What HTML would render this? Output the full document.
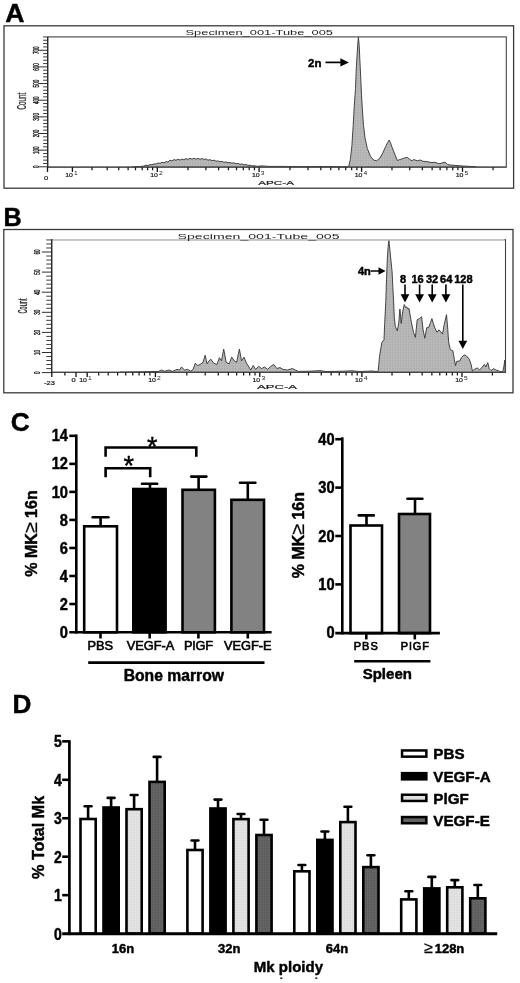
<!DOCTYPE html>
<html><head><meta charset="utf-8"><title>Figure</title>
<style>
html,body{margin:0;padding:0;background:#fff;}
body{width:520px;height:983px;overflow:hidden;font-family:"Liberation Sans",sans-serif;}
svg{display:block;}
text[font-weight="bold"]{stroke:#000;stroke-width:0.45px;stroke-linejoin:round;}
text[font-weight="bold"] tspan[font-weight="normal"]{stroke-width:0.25px;}
</style></head>
<body>
<svg width="520" height="983" viewBox="0 0 520 983">
<defs>
<pattern id="hatch" width="1.6" height="1.6" patternUnits="userSpaceOnUse"><rect width="1.6" height="1.6" fill="#c0c0c0"/><path d="M0,0 H1.6 M0,0 V1.6" stroke="#9a9a9a" stroke-width="0.5"/></pattern>
<pattern id="dotl" width="1.6" height="1.6" patternUnits="userSpaceOnUse"><rect width="1.6" height="1.6" fill="#e8e8e8"/><path d="M0,0 H1.6 M0,0 V1.6" stroke="#cccccc" stroke-width="0.5"/></pattern>
<pattern id="dotd" width="1.6" height="1.6" patternUnits="userSpaceOnUse"><rect width="1.6" height="1.6" fill="#6a6a6a"/><path d="M0,0 H1.6 M0,0 V1.6" stroke="#4a4a4a" stroke-width="0.5"/></pattern>
<filter id="soft" x="0" y="0" width="100%" height="100%" filterUnits="userSpaceOnUse" color-interpolation-filters="sRGB"><feGaussianBlur stdDeviation="0.38"/></filter>
</defs>
<rect width="520" height="983" fill="#fff"/>
<g filter="url(#soft)">
<text x="5.20" y="21.70" font-size="25.4" font-weight="bold" text-anchor="start" fill="#000" font-family="Liberation Sans, sans-serif" textLength="19.2" lengthAdjust="spacingAndGlyphs">A</text>
<text x="3.60" y="225.80" font-size="25.2" font-weight="bold" text-anchor="start" fill="#000" font-family="Liberation Sans, sans-serif" >B</text>
<text x="10.80" y="431.00" font-size="26.3" font-weight="bold" text-anchor="start" fill="#000" font-family="Liberation Sans, sans-serif" >C</text>
<text x="12.50" y="713.00" font-size="26.2" font-weight="bold" text-anchor="start" fill="#000" font-family="Liberation Sans, sans-serif" >D</text>
<rect x="4.00" y="25.80" width="509.60" height="162.40" fill="#fff" stroke="#3a3a3a" stroke-width="1.3" />
<path d="M132.0,166.9 L140.0,166.5 L144.0,166.1 L146.0,165.2 L148.0,165.6 L150.0,164.5 L152.0,164.8 L154.0,163.8 L156.0,164.1 L158.0,163.0 L160.0,163.4 L162.0,162.3 L164.0,162.8 L166.0,161.6 L168.0,162.0 L170.0,160.3 L172.0,160.9 L174.0,159.6 L176.0,160.3 L178.0,159.2 L180.0,160.0 L182.0,159.1 L184.0,159.8 L186.0,158.5 L188.0,159.4 L190.0,158.3 L192.0,159.2 L194.0,158.2 L196.0,159.2 L198.0,158.3 L200.0,159.4 L202.0,158.5 L204.0,159.4 L206.0,158.9 L208.0,160.2 L210.0,159.6 L212.0,160.7 L214.0,160.2 L216.0,161.2 L218.0,160.9 L220.0,161.8 L222.0,161.4 L224.0,162.3 L226.0,161.9 L228.0,162.8 L230.0,162.5 L232.0,163.2 L234.0,162.8 L236.0,163.8 L238.0,163.4 L240.0,164.3 L242.0,163.9 L244.0,164.8 L246.0,164.5 L248.0,165.4 L250.0,165.2 L252.0,165.9 L254.0,165.7 L257.0,166.3 L262.0,165.9 L268.0,166.4 L280.0,166.4 L300.0,166.6 L330.0,166.5 L346.0,166.8 L346.0,166.9 Z" fill="url(#hatch)" stroke="none"/>
<path d="M132.0,166.9 L140.0,166.5 L144.0,166.1 L146.0,165.2 L148.0,165.6 L150.0,164.5 L152.0,164.8 L154.0,163.8 L156.0,164.1 L158.0,163.0 L160.0,163.4 L162.0,162.3 L164.0,162.8 L166.0,161.6 L168.0,162.0 L170.0,160.3 L172.0,160.9 L174.0,159.6 L176.0,160.3 L178.0,159.2 L180.0,160.0 L182.0,159.1 L184.0,159.8 L186.0,158.5 L188.0,159.4 L190.0,158.3 L192.0,159.2 L194.0,158.2 L196.0,159.2 L198.0,158.3 L200.0,159.4 L202.0,158.5 L204.0,159.4 L206.0,158.9 L208.0,160.2 L210.0,159.6 L212.0,160.7 L214.0,160.2 L216.0,161.2 L218.0,160.9 L220.0,161.8 L222.0,161.4 L224.0,162.3 L226.0,161.9 L228.0,162.8 L230.0,162.5 L232.0,163.2 L234.0,162.8 L236.0,163.8 L238.0,163.4 L240.0,164.3 L242.0,163.9 L244.0,164.8 L246.0,164.5 L248.0,165.4 L250.0,165.2 L252.0,165.9 L254.0,165.7 L257.0,166.3 L262.0,165.9 L268.0,166.4 L280.0,166.4 L300.0,166.6 L330.0,166.5 L346.0,166.8 L346.0,166.9" fill="none" stroke="#333" stroke-width="0.9" stroke-linejoin="round"/>
<path d="M346.0,167.0 L348.8,166.2 L350.4,159.2 L351.9,145.4 L353.2,125.4 L354.2,106.9 L355.5,88.5 L356.2,70.0 L357.0,56.2 L357.8,43.8 L358.4,37.2 L359.2,45.4 L359.9,60.8 L360.8,79.2 L361.5,94.6 L362.4,110.0 L363.5,125.4 L365.0,137.7 L367.3,148.5 L370.4,156.2 L373.5,160.0 L376.5,160.8 L379.6,158.5 L382.7,153.1 L385.8,146.2 L387.8,142.2 L389.2,140.0 L390.4,142.6 L391.9,146.9 L395.0,154.6 L397.3,160.5 L399.5,159.6 L401.2,159.2 L404.5,157.9 L407.3,157.4 L409.5,159.2 L411.9,160.8 L413.5,159.6 L415.0,160.0 L417.5,160.8 L420.0,160.0 L423.0,161.3 L427.0,161.6 L431.0,162.5 L435.0,162.3 L439.0,163.8 L442.0,163.0 L445.0,162.2 L447.5,164.4 L450.0,165.0 L454.0,165.3 L460.0,165.8 L468.0,166.3 L476.0,166.7 L476.0,167.0 Z" fill="url(#hatch)" stroke="none"/>
<path d="M346.0,167.0 L348.8,166.2 L350.4,159.2 L351.9,145.4 L353.2,125.4 L354.2,106.9 L355.5,88.5 L356.2,70.0 L357.0,56.2 L357.8,43.8 L358.4,37.2 L359.2,45.4 L359.9,60.8 L360.8,79.2 L361.5,94.6 L362.4,110.0 L363.5,125.4 L365.0,137.7 L367.3,148.5 L370.4,156.2 L373.5,160.0 L376.5,160.8 L379.6,158.5 L382.7,153.1 L385.8,146.2 L387.8,142.2 L389.2,140.0 L390.4,142.6 L391.9,146.9 L395.0,154.6 L397.3,160.5 L399.5,159.6 L401.2,159.2 L404.5,157.9 L407.3,157.4 L409.5,159.2 L411.9,160.8 L413.5,159.6 L415.0,160.0 L417.5,160.8 L420.0,160.0 L423.0,161.3 L427.0,161.6 L431.0,162.5 L435.0,162.3 L439.0,163.8 L442.0,163.0 L445.0,162.2 L447.5,164.4 L450.0,165.0 L454.0,165.3 L460.0,165.8 L468.0,166.3 L476.0,166.7 L476.0,167.0" fill="none" stroke="#333" stroke-width="0.9" stroke-linejoin="round"/>
<rect x="47.70" y="36.90" width="458.60" height="130.30" fill="none" stroke="#444" stroke-width="1.1" />
<line x1="47.70" y1="36.90" x2="47.70" y2="167.20" stroke="#222" stroke-width="1.15" />
<line x1="47.70" y1="167.00" x2="506.30" y2="167.00" stroke="#444" stroke-width="1.0" />
<line x1="39.10" y1="166.80" x2="47.70" y2="166.80" stroke="#222" stroke-width="0.95" />
<line x1="43.10" y1="163.47" x2="47.70" y2="163.47" stroke="#333" stroke-width="0.95" />
<line x1="43.10" y1="160.14" x2="47.70" y2="160.14" stroke="#333" stroke-width="0.95" />
<line x1="43.10" y1="156.81" x2="47.70" y2="156.81" stroke="#333" stroke-width="0.95" />
<line x1="43.10" y1="153.48" x2="47.70" y2="153.48" stroke="#333" stroke-width="0.95" />
<line x1="39.10" y1="150.15" x2="47.70" y2="150.15" stroke="#222" stroke-width="0.95" />
<line x1="43.10" y1="146.82" x2="47.70" y2="146.82" stroke="#333" stroke-width="0.95" />
<line x1="43.10" y1="143.49" x2="47.70" y2="143.49" stroke="#333" stroke-width="0.95" />
<line x1="43.10" y1="140.16" x2="47.70" y2="140.16" stroke="#333" stroke-width="0.95" />
<line x1="43.10" y1="136.83" x2="47.70" y2="136.83" stroke="#333" stroke-width="0.95" />
<line x1="39.10" y1="133.50" x2="47.70" y2="133.50" stroke="#222" stroke-width="0.95" />
<line x1="43.10" y1="130.17" x2="47.70" y2="130.17" stroke="#333" stroke-width="0.95" />
<line x1="43.10" y1="126.84" x2="47.70" y2="126.84" stroke="#333" stroke-width="0.95" />
<line x1="43.10" y1="123.51" x2="47.70" y2="123.51" stroke="#333" stroke-width="0.95" />
<line x1="43.10" y1="120.18" x2="47.70" y2="120.18" stroke="#333" stroke-width="0.95" />
<line x1="39.10" y1="116.85" x2="47.70" y2="116.85" stroke="#222" stroke-width="0.95" />
<line x1="43.10" y1="113.52" x2="47.70" y2="113.52" stroke="#333" stroke-width="0.95" />
<line x1="43.10" y1="110.19" x2="47.70" y2="110.19" stroke="#333" stroke-width="0.95" />
<line x1="43.10" y1="106.86" x2="47.70" y2="106.86" stroke="#333" stroke-width="0.95" />
<line x1="43.10" y1="103.53" x2="47.70" y2="103.53" stroke="#333" stroke-width="0.95" />
<line x1="39.10" y1="100.20" x2="47.70" y2="100.20" stroke="#222" stroke-width="0.95" />
<line x1="43.10" y1="96.87" x2="47.70" y2="96.87" stroke="#333" stroke-width="0.95" />
<line x1="43.10" y1="93.54" x2="47.70" y2="93.54" stroke="#333" stroke-width="0.95" />
<line x1="43.10" y1="90.21" x2="47.70" y2="90.21" stroke="#333" stroke-width="0.95" />
<line x1="43.10" y1="86.88" x2="47.70" y2="86.88" stroke="#333" stroke-width="0.95" />
<line x1="39.10" y1="83.55" x2="47.70" y2="83.55" stroke="#222" stroke-width="0.95" />
<line x1="43.10" y1="80.22" x2="47.70" y2="80.22" stroke="#333" stroke-width="0.95" />
<line x1="43.10" y1="76.89" x2="47.70" y2="76.89" stroke="#333" stroke-width="0.95" />
<line x1="43.10" y1="73.56" x2="47.70" y2="73.56" stroke="#333" stroke-width="0.95" />
<line x1="43.10" y1="70.23" x2="47.70" y2="70.23" stroke="#333" stroke-width="0.95" />
<line x1="39.10" y1="66.90" x2="47.70" y2="66.90" stroke="#222" stroke-width="0.95" />
<line x1="43.10" y1="63.57" x2="47.70" y2="63.57" stroke="#333" stroke-width="0.95" />
<line x1="43.10" y1="60.24" x2="47.70" y2="60.24" stroke="#333" stroke-width="0.95" />
<line x1="43.10" y1="56.91" x2="47.70" y2="56.91" stroke="#333" stroke-width="0.95" />
<line x1="43.10" y1="53.58" x2="47.70" y2="53.58" stroke="#333" stroke-width="0.95" />
<line x1="39.10" y1="50.25" x2="47.70" y2="50.25" stroke="#222" stroke-width="0.95" />
<line x1="43.10" y1="46.92" x2="47.70" y2="46.92" stroke="#333" stroke-width="0.95" />
<line x1="43.10" y1="43.59" x2="47.70" y2="43.59" stroke="#333" stroke-width="0.95" />
<line x1="43.10" y1="40.26" x2="47.70" y2="40.26" stroke="#333" stroke-width="0.95" />
<line x1="43.10" y1="36.93" x2="47.70" y2="36.93" stroke="#333" stroke-width="0.95" />
<text transform="translate(38.60,166.80) rotate(-90) scale(0.54,1)" font-size="8.5" font-weight="normal" text-anchor="middle" fill="#1a1a1a" font-family="Liberation Sans, sans-serif" stroke="#1a1a1a" stroke-width="0.4">0</text>
<text transform="translate(38.60,150.15) rotate(-90) scale(0.54,1)" font-size="8.5" font-weight="normal" text-anchor="middle" fill="#1a1a1a" font-family="Liberation Sans, sans-serif" stroke="#1a1a1a" stroke-width="0.4">100</text>
<text transform="translate(38.60,133.50) rotate(-90) scale(0.54,1)" font-size="8.5" font-weight="normal" text-anchor="middle" fill="#1a1a1a" font-family="Liberation Sans, sans-serif" stroke="#1a1a1a" stroke-width="0.4">200</text>
<text transform="translate(38.60,116.85) rotate(-90) scale(0.54,1)" font-size="8.5" font-weight="normal" text-anchor="middle" fill="#1a1a1a" font-family="Liberation Sans, sans-serif" stroke="#1a1a1a" stroke-width="0.4">300</text>
<text transform="translate(38.60,100.20) rotate(-90) scale(0.54,1)" font-size="8.5" font-weight="normal" text-anchor="middle" fill="#1a1a1a" font-family="Liberation Sans, sans-serif" stroke="#1a1a1a" stroke-width="0.4">400</text>
<text transform="translate(38.60,83.55) rotate(-90) scale(0.54,1)" font-size="8.5" font-weight="normal" text-anchor="middle" fill="#1a1a1a" font-family="Liberation Sans, sans-serif" stroke="#1a1a1a" stroke-width="0.4">500</text>
<text transform="translate(38.60,66.90) rotate(-90) scale(0.54,1)" font-size="8.5" font-weight="normal" text-anchor="middle" fill="#1a1a1a" font-family="Liberation Sans, sans-serif" stroke="#1a1a1a" stroke-width="0.4">600</text>
<text transform="translate(38.60,50.25) rotate(-90) scale(0.54,1)" font-size="8.5" font-weight="normal" text-anchor="middle" fill="#1a1a1a" font-family="Liberation Sans, sans-serif" stroke="#1a1a1a" stroke-width="0.4">700</text>
<line x1="47.50" y1="167.20" x2="47.50" y2="171.90" stroke="#111" stroke-width="1.3" />
<line x1="72.40" y1="167.20" x2="72.40" y2="171.90" stroke="#111" stroke-width="1.3" />
<line x1="157.30" y1="167.20" x2="157.30" y2="171.90" stroke="#111" stroke-width="1.3" />
<line x1="259.10" y1="167.20" x2="259.10" y2="171.90" stroke="#111" stroke-width="1.3" />
<line x1="361.60" y1="167.20" x2="361.60" y2="171.90" stroke="#111" stroke-width="1.3" />
<line x1="462.50" y1="167.20" x2="462.50" y2="171.90" stroke="#111" stroke-width="1.3" />
<line x1="92.00" y1="167.20" x2="92.00" y2="170.30" stroke="#1a1a1a" stroke-width="1.25" />
<line x1="107.20" y1="167.20" x2="107.20" y2="170.30" stroke="#1a1a1a" stroke-width="1.25" />
<line x1="118.70" y1="167.20" x2="118.70" y2="170.30" stroke="#1a1a1a" stroke-width="1.25" />
<line x1="128.10" y1="167.20" x2="128.10" y2="170.30" stroke="#1a1a1a" stroke-width="1.25" />
<line x1="135.50" y1="167.20" x2="135.50" y2="170.30" stroke="#1a1a1a" stroke-width="1.25" />
<line x1="142.20" y1="167.20" x2="142.20" y2="170.30" stroke="#1a1a1a" stroke-width="1.25" />
<line x1="147.60" y1="167.20" x2="147.60" y2="170.30" stroke="#1a1a1a" stroke-width="1.25" />
<line x1="152.60" y1="167.20" x2="152.60" y2="170.30" stroke="#1a1a1a" stroke-width="1.25" />
<line x1="187.94" y1="167.20" x2="187.94" y2="170.30" stroke="#1a1a1a" stroke-width="1.25" />
<line x1="205.87" y1="167.20" x2="205.87" y2="170.30" stroke="#1a1a1a" stroke-width="1.25" />
<line x1="218.59" y1="167.20" x2="218.59" y2="170.30" stroke="#1a1a1a" stroke-width="1.25" />
<line x1="228.46" y1="167.20" x2="228.46" y2="170.30" stroke="#1a1a1a" stroke-width="1.25" />
<line x1="236.52" y1="167.20" x2="236.52" y2="170.30" stroke="#1a1a1a" stroke-width="1.25" />
<line x1="243.33" y1="167.20" x2="243.33" y2="170.30" stroke="#1a1a1a" stroke-width="1.25" />
<line x1="249.23" y1="167.20" x2="249.23" y2="170.30" stroke="#1a1a1a" stroke-width="1.25" />
<line x1="254.44" y1="167.20" x2="254.44" y2="170.30" stroke="#1a1a1a" stroke-width="1.25" />
<line x1="289.96" y1="167.20" x2="289.96" y2="170.30" stroke="#1a1a1a" stroke-width="1.25" />
<line x1="308.00" y1="167.20" x2="308.00" y2="170.30" stroke="#1a1a1a" stroke-width="1.25" />
<line x1="320.81" y1="167.20" x2="320.81" y2="170.30" stroke="#1a1a1a" stroke-width="1.25" />
<line x1="330.74" y1="167.20" x2="330.74" y2="170.30" stroke="#1a1a1a" stroke-width="1.25" />
<line x1="338.86" y1="167.20" x2="338.86" y2="170.30" stroke="#1a1a1a" stroke-width="1.25" />
<line x1="345.72" y1="167.20" x2="345.72" y2="170.30" stroke="#1a1a1a" stroke-width="1.25" />
<line x1="351.67" y1="167.20" x2="351.67" y2="170.30" stroke="#1a1a1a" stroke-width="1.25" />
<line x1="356.91" y1="167.20" x2="356.91" y2="170.30" stroke="#1a1a1a" stroke-width="1.25" />
<line x1="391.97" y1="167.20" x2="391.97" y2="170.30" stroke="#1a1a1a" stroke-width="1.25" />
<line x1="409.74" y1="167.20" x2="409.74" y2="170.30" stroke="#1a1a1a" stroke-width="1.25" />
<line x1="422.35" y1="167.20" x2="422.35" y2="170.30" stroke="#1a1a1a" stroke-width="1.25" />
<line x1="432.13" y1="167.20" x2="432.13" y2="170.30" stroke="#1a1a1a" stroke-width="1.25" />
<line x1="440.12" y1="167.20" x2="440.12" y2="170.30" stroke="#1a1a1a" stroke-width="1.25" />
<line x1="446.87" y1="167.20" x2="446.87" y2="170.30" stroke="#1a1a1a" stroke-width="1.25" />
<line x1="452.72" y1="167.20" x2="452.72" y2="170.30" stroke="#1a1a1a" stroke-width="1.25" />
<line x1="457.88" y1="167.20" x2="457.88" y2="170.30" stroke="#1a1a1a" stroke-width="1.25" />
<line x1="493.05" y1="167.20" x2="493.05" y2="170.30" stroke="#1a1a1a" stroke-width="1.25" />
<text transform="translate(46.10,180.00) scale(1.3,1)" font-size="5.8" text-anchor="middle" fill="#1a1a1a" stroke="#1a1a1a" stroke-width="0.2" font-family="Liberation Sans, sans-serif">0</text>
<text transform="translate(71.50,177.20) scale(1.2,1)" font-size="5.8" text-anchor="middle" fill="#1a1a1a" stroke="#1a1a1a" stroke-width="0.2" font-family="Liberation Sans, sans-serif">10<tspan dy="-2.5" dx="1.0" font-size="5.6" stroke="none">1</tspan></text>
<text transform="translate(156.50,177.20) scale(1.2,1)" font-size="5.8" text-anchor="middle" fill="#1a1a1a" stroke="#1a1a1a" stroke-width="0.2" font-family="Liberation Sans, sans-serif">10<tspan dy="-2.5" dx="1.0" font-size="5.6" stroke="none">2</tspan></text>
<text transform="translate(258.20,177.20) scale(1.2,1)" font-size="5.8" text-anchor="middle" fill="#1a1a1a" stroke="#1a1a1a" stroke-width="0.2" font-family="Liberation Sans, sans-serif">10<tspan dy="-2.5" dx="1.0" font-size="5.6" stroke="none">3</tspan></text>
<text transform="translate(361.00,177.20) scale(1.2,1)" font-size="5.8" text-anchor="middle" fill="#1a1a1a" stroke="#1a1a1a" stroke-width="0.2" font-family="Liberation Sans, sans-serif">10<tspan dy="-2.5" dx="1.0" font-size="5.6" stroke="none">4</tspan></text>
<text transform="translate(462.00,177.20) scale(1.2,1)" font-size="5.8" text-anchor="middle" fill="#1a1a1a" stroke="#1a1a1a" stroke-width="0.2" font-family="Liberation Sans, sans-serif">10<tspan dy="-2.5" dx="1.0" font-size="5.6" stroke="none">5</tspan></text>
<text x="185.50" y="35.40" font-size="8.1" font-weight="normal" text-anchor="start" fill="#222" font-family="Liberation Sans, sans-serif" textLength="147.5" lengthAdjust="spacingAndGlyphs">Specimen_001-Tube_005</text>
<text x="258.30" y="185.00" font-size="6.2" font-weight="normal" text-anchor="start" fill="#222" font-family="Liberation Sans, sans-serif" textLength="35.7" lengthAdjust="spacingAndGlyphs" stroke="#222" stroke-width="0.2">APC-A</text>
<text transform="translate(25.90,101.20) rotate(-90) scale(0.48,1)" font-size="13" font-weight="normal" text-anchor="middle" fill="#222" font-family="Liberation Sans, sans-serif" stroke="#222" stroke-width="0.3">Count</text>
<text x="308.00" y="67.00" font-size="11.5" font-weight="bold" text-anchor="start" fill="#000" font-family="Liberation Sans, sans-serif" >2n</text>
<line x1="325.50" y1="62.40" x2="342.00" y2="62.40" stroke="#000" stroke-width="1.7" />
<path d="M340.4,58.3 L348.9,62.4 L340.4,66.5 Z" fill="#000"/>
<rect x="3.80" y="229.50" width="509.20" height="163.30" fill="#fff" stroke="#3a3a3a" stroke-width="1.3" />
<path d="M120.0,372.2 L150.0,371.6 L158.5,371.4 L161.5,370.0 L164.6,371.2 L169.2,370.0 L172.3,371.4 L177.0,369.4 L179.4,370.0 L181.5,367.0 L184.6,370.0 L187.7,369.4 L190.8,371.2 L193.0,369.4 L195.4,363.2 L197.5,365.5 L200.0,364.5 L203.0,362.3 L205.2,355.2 L207.0,363.8 L209.0,361.0 L210.8,359.2 L213.8,363.2 L216.9,364.5 L219.4,357.7 L221.5,360.8 L223.7,349.1 L226.2,362.3 L229.2,363.8 L231.7,357.1 L234.2,360.8 L236.6,362.3 L239.4,349.1 L241.5,360.8 L244.0,357.1 L246.5,363.2 L250.8,370.0 L253.2,365.4 L255.7,369.4 L258.5,366.3 L261.5,368.5 L264.6,367.0 L267.7,369.4 L270.8,366.3 L273.8,364.5 L276.9,368.5 L280.0,367.6 L283.0,369.4 L287.7,370.0 L292.3,368.5 L295.4,370.0 L298.5,371.4 L310.0,371.2 L320.0,370.6 L326.0,371.5 L340.0,371.3 L352.0,370.8 L360.0,371.5 L372.0,371.0 L377.5,371.6 L377.5,372.2 Z" fill="url(#hatch)" stroke="none"/>
<path d="M120.0,372.2 L150.0,371.6 L158.5,371.4 L161.5,370.0 L164.6,371.2 L169.2,370.0 L172.3,371.4 L177.0,369.4 L179.4,370.0 L181.5,367.0 L184.6,370.0 L187.7,369.4 L190.8,371.2 L193.0,369.4 L195.4,363.2 L197.5,365.5 L200.0,364.5 L203.0,362.3 L205.2,355.2 L207.0,363.8 L209.0,361.0 L210.8,359.2 L213.8,363.2 L216.9,364.5 L219.4,357.7 L221.5,360.8 L223.7,349.1 L226.2,362.3 L229.2,363.8 L231.7,357.1 L234.2,360.8 L236.6,362.3 L239.4,349.1 L241.5,360.8 L244.0,357.1 L246.5,363.2 L250.8,370.0 L253.2,365.4 L255.7,369.4 L258.5,366.3 L261.5,368.5 L264.6,367.0 L267.7,369.4 L270.8,366.3 L273.8,364.5 L276.9,368.5 L280.0,367.6 L283.0,369.4 L287.7,370.0 L292.3,368.5 L295.4,370.0 L298.5,371.4 L310.0,371.2 L320.0,370.6 L326.0,371.5 L340.0,371.3 L352.0,370.8 L360.0,371.5 L372.0,371.0 L377.5,371.6 L377.5,372.2" fill="none" stroke="#333" stroke-width="0.9" stroke-linejoin="round"/>
<path d="M377.3,372.2 L378.1,371.5 L379.6,355.8 L381.8,342.6 L384.0,339.6 L384.7,323.4 L385.8,301.3 L386.5,279.2 L387.4,257.1 L388.4,243.8 L388.9,240.4 L389.5,246.0 L390.6,257.1 L392.1,271.8 L392.8,286.6 L393.6,301.3 L394.3,317.5 L395.3,326.4 L397.3,330.8 L398.7,323.4 L399.9,309.0 L400.6,316.0 L401.2,323.4 L402.7,311.6 L404.3,304.5 L405.5,307.4 L406.8,306.9 L408.0,309.2 L409.0,308.4 L411.3,321.9 L413.5,332.3 L415.4,337.4 L417.2,319.7 L419.5,318.6 L421.6,316.8 L423.0,329.3 L424.8,338.2 L426.7,327.8 L428.9,327.1 L430.5,322.5 L431.9,318.6 L433.4,323.5 L434.8,327.8 L437.0,332.3 L439.0,329.8 L440.0,331.0 L442.5,334.1 L444.2,324.6 L446.5,314.7 L447.7,328.1 L448.6,341.9 L450.3,349.7 L452.9,350.9 L454.3,359.2 L455.5,365.6 L456.7,361.3 L459.8,361.0 L461.5,357.5 L464.1,354.9 L466.4,355.8 L469.3,359.2 L471.1,364.4 L472.4,371.0 L474.5,369.3 L477.1,367.9 L479.7,370.0 L482.3,367.0 L484.4,364.4 L485.8,367.0 L487.8,362.7 L489.2,368.7 L491.0,370.5 L493.6,368.7 L496.1,370.0 L499.6,371.3 L502.7,372.0 L503.9,366.2 L504.8,360.1 L505.3,372.2 Z" fill="url(#hatch)" stroke="none"/>
<path d="M377.3,372.2 L378.1,371.5 L379.6,355.8 L381.8,342.6 L384.0,339.6 L384.7,323.4 L385.8,301.3 L386.5,279.2 L387.4,257.1 L388.4,243.8 L388.9,240.4 L389.5,246.0 L390.6,257.1 L392.1,271.8 L392.8,286.6 L393.6,301.3 L394.3,317.5 L395.3,326.4 L397.3,330.8 L398.7,323.4 L399.9,309.0 L400.6,316.0 L401.2,323.4 L402.7,311.6 L404.3,304.5 L405.5,307.4 L406.8,306.9 L408.0,309.2 L409.0,308.4 L411.3,321.9 L413.5,332.3 L415.4,337.4 L417.2,319.7 L419.5,318.6 L421.6,316.8 L423.0,329.3 L424.8,338.2 L426.7,327.8 L428.9,327.1 L430.5,322.5 L431.9,318.6 L433.4,323.5 L434.8,327.8 L437.0,332.3 L439.0,329.8 L440.0,331.0 L442.5,334.1 L444.2,324.6 L446.5,314.7 L447.7,328.1 L448.6,341.9 L450.3,349.7 L452.9,350.9 L454.3,359.2 L455.5,365.6 L456.7,361.3 L459.8,361.0 L461.5,357.5 L464.1,354.9 L466.4,355.8 L469.3,359.2 L471.1,364.4 L472.4,371.0 L474.5,369.3 L477.1,367.9 L479.7,370.0 L482.3,367.0 L484.4,364.4 L485.8,367.0 L487.8,362.7 L489.2,368.7 L491.0,370.5 L493.6,368.7 L496.1,370.0 L499.6,371.3 L502.7,372.0 L503.9,366.2 L504.8,360.1 L505.3,372.2" fill="none" stroke="#333" stroke-width="0.9" stroke-linejoin="round"/>
<rect x="51.70" y="239.70" width="453.80" height="132.70" fill="none" stroke="#444" stroke-width="1.1" />
<line x1="52.70" y1="239.70" x2="504.50" y2="239.70" stroke="#c4c4c4" stroke-width="1.6" />
<line x1="51.70" y1="239.70" x2="51.70" y2="372.40" stroke="#222" stroke-width="1.15" />
<line x1="51.70" y1="372.20" x2="505.50" y2="372.20" stroke="#444" stroke-width="1.0" />
<line x1="41.90" y1="372.60" x2="51.70" y2="372.60" stroke="#222" stroke-width="0.95" />
<line x1="46.30" y1="368.58" x2="51.70" y2="368.58" stroke="#333" stroke-width="0.95" />
<line x1="46.30" y1="364.56" x2="51.70" y2="364.56" stroke="#333" stroke-width="0.95" />
<line x1="46.30" y1="360.54" x2="51.70" y2="360.54" stroke="#333" stroke-width="0.95" />
<line x1="46.30" y1="356.52" x2="51.70" y2="356.52" stroke="#333" stroke-width="0.95" />
<line x1="41.90" y1="352.50" x2="51.70" y2="352.50" stroke="#222" stroke-width="0.95" />
<line x1="46.30" y1="348.48" x2="51.70" y2="348.48" stroke="#333" stroke-width="0.95" />
<line x1="46.30" y1="344.46" x2="51.70" y2="344.46" stroke="#333" stroke-width="0.95" />
<line x1="46.30" y1="340.44" x2="51.70" y2="340.44" stroke="#333" stroke-width="0.95" />
<line x1="46.30" y1="336.42" x2="51.70" y2="336.42" stroke="#333" stroke-width="0.95" />
<line x1="41.90" y1="332.40" x2="51.70" y2="332.40" stroke="#222" stroke-width="0.95" />
<line x1="46.30" y1="328.38" x2="51.70" y2="328.38" stroke="#333" stroke-width="0.95" />
<line x1="46.30" y1="324.36" x2="51.70" y2="324.36" stroke="#333" stroke-width="0.95" />
<line x1="46.30" y1="320.34" x2="51.70" y2="320.34" stroke="#333" stroke-width="0.95" />
<line x1="46.30" y1="316.32" x2="51.70" y2="316.32" stroke="#333" stroke-width="0.95" />
<line x1="41.90" y1="312.30" x2="51.70" y2="312.30" stroke="#222" stroke-width="0.95" />
<line x1="46.30" y1="308.28" x2="51.70" y2="308.28" stroke="#333" stroke-width="0.95" />
<line x1="46.30" y1="304.26" x2="51.70" y2="304.26" stroke="#333" stroke-width="0.95" />
<line x1="46.30" y1="300.24" x2="51.70" y2="300.24" stroke="#333" stroke-width="0.95" />
<line x1="46.30" y1="296.22" x2="51.70" y2="296.22" stroke="#333" stroke-width="0.95" />
<line x1="41.90" y1="292.20" x2="51.70" y2="292.20" stroke="#222" stroke-width="0.95" />
<line x1="46.30" y1="288.18" x2="51.70" y2="288.18" stroke="#333" stroke-width="0.95" />
<line x1="46.30" y1="284.16" x2="51.70" y2="284.16" stroke="#333" stroke-width="0.95" />
<line x1="46.30" y1="280.14" x2="51.70" y2="280.14" stroke="#333" stroke-width="0.95" />
<line x1="46.30" y1="276.12" x2="51.70" y2="276.12" stroke="#333" stroke-width="0.95" />
<line x1="41.90" y1="272.10" x2="51.70" y2="272.10" stroke="#222" stroke-width="0.95" />
<line x1="46.30" y1="268.08" x2="51.70" y2="268.08" stroke="#333" stroke-width="0.95" />
<line x1="46.30" y1="264.06" x2="51.70" y2="264.06" stroke="#333" stroke-width="0.95" />
<line x1="46.30" y1="260.04" x2="51.70" y2="260.04" stroke="#333" stroke-width="0.95" />
<line x1="46.30" y1="256.02" x2="51.70" y2="256.02" stroke="#333" stroke-width="0.95" />
<line x1="41.90" y1="252.00" x2="51.70" y2="252.00" stroke="#222" stroke-width="0.95" />
<line x1="46.30" y1="247.98" x2="51.70" y2="247.98" stroke="#333" stroke-width="0.95" />
<line x1="46.30" y1="243.96" x2="51.70" y2="243.96" stroke="#333" stroke-width="0.95" />
<line x1="46.30" y1="239.94" x2="51.70" y2="239.94" stroke="#333" stroke-width="0.95" />
<text transform="translate(40.00,372.60) rotate(-90) scale(0.54,1)" font-size="8.5" font-weight="normal" text-anchor="middle" fill="#1a1a1a" font-family="Liberation Sans, sans-serif" stroke="#1a1a1a" stroke-width="0.4">0</text>
<text transform="translate(40.00,352.50) rotate(-90) scale(0.54,1)" font-size="8.5" font-weight="normal" text-anchor="middle" fill="#1a1a1a" font-family="Liberation Sans, sans-serif" stroke="#1a1a1a" stroke-width="0.4">10</text>
<text transform="translate(40.00,332.40) rotate(-90) scale(0.54,1)" font-size="8.5" font-weight="normal" text-anchor="middle" fill="#1a1a1a" font-family="Liberation Sans, sans-serif" stroke="#1a1a1a" stroke-width="0.4">20</text>
<text transform="translate(40.00,312.30) rotate(-90) scale(0.54,1)" font-size="8.5" font-weight="normal" text-anchor="middle" fill="#1a1a1a" font-family="Liberation Sans, sans-serif" stroke="#1a1a1a" stroke-width="0.4">30</text>
<text transform="translate(40.00,292.20) rotate(-90) scale(0.54,1)" font-size="8.5" font-weight="normal" text-anchor="middle" fill="#1a1a1a" font-family="Liberation Sans, sans-serif" stroke="#1a1a1a" stroke-width="0.4">40</text>
<text transform="translate(40.00,272.10) rotate(-90) scale(0.54,1)" font-size="8.5" font-weight="normal" text-anchor="middle" fill="#1a1a1a" font-family="Liberation Sans, sans-serif" stroke="#1a1a1a" stroke-width="0.4">50</text>
<text transform="translate(40.00,252.00) rotate(-90) scale(0.54,1)" font-size="8.5" font-weight="normal" text-anchor="middle" fill="#1a1a1a" font-family="Liberation Sans, sans-serif" stroke="#1a1a1a" stroke-width="0.4">60</text>
<line x1="51.80" y1="372.40" x2="51.80" y2="377.10" stroke="#111" stroke-width="1.3" />
<line x1="76.00" y1="372.40" x2="76.00" y2="377.10" stroke="#111" stroke-width="1.3" />
<line x1="87.20" y1="372.40" x2="87.20" y2="377.10" stroke="#111" stroke-width="1.3" />
<line x1="155.40" y1="372.40" x2="155.40" y2="377.10" stroke="#111" stroke-width="1.3" />
<line x1="259.80" y1="372.40" x2="259.80" y2="377.10" stroke="#111" stroke-width="1.3" />
<line x1="361.90" y1="372.40" x2="361.90" y2="377.10" stroke="#111" stroke-width="1.3" />
<line x1="462.00" y1="372.40" x2="462.00" y2="377.10" stroke="#111" stroke-width="1.3" />
<line x1="64.90" y1="372.40" x2="64.90" y2="375.50" stroke="#1a1a1a" stroke-width="1.25" />
<line x1="98.70" y1="372.40" x2="98.70" y2="375.50" stroke="#1a1a1a" stroke-width="1.25" />
<line x1="108.20" y1="372.40" x2="108.20" y2="375.50" stroke="#1a1a1a" stroke-width="1.25" />
<line x1="117.60" y1="372.40" x2="117.60" y2="375.50" stroke="#1a1a1a" stroke-width="1.25" />
<line x1="125.70" y1="372.40" x2="125.70" y2="375.50" stroke="#1a1a1a" stroke-width="1.25" />
<line x1="132.80" y1="372.40" x2="132.80" y2="375.50" stroke="#1a1a1a" stroke-width="1.25" />
<line x1="139.10" y1="372.40" x2="139.10" y2="375.50" stroke="#1a1a1a" stroke-width="1.25" />
<line x1="144.50" y1="372.40" x2="144.50" y2="375.50" stroke="#1a1a1a" stroke-width="1.25" />
<line x1="149.90" y1="372.40" x2="149.90" y2="375.50" stroke="#1a1a1a" stroke-width="1.25" />
<line x1="186.83" y1="372.40" x2="186.83" y2="375.50" stroke="#1a1a1a" stroke-width="1.25" />
<line x1="205.21" y1="372.40" x2="205.21" y2="375.50" stroke="#1a1a1a" stroke-width="1.25" />
<line x1="218.26" y1="372.40" x2="218.26" y2="375.50" stroke="#1a1a1a" stroke-width="1.25" />
<line x1="228.37" y1="372.40" x2="228.37" y2="375.50" stroke="#1a1a1a" stroke-width="1.25" />
<line x1="236.64" y1="372.40" x2="236.64" y2="375.50" stroke="#1a1a1a" stroke-width="1.25" />
<line x1="243.63" y1="372.40" x2="243.63" y2="375.50" stroke="#1a1a1a" stroke-width="1.25" />
<line x1="249.68" y1="372.40" x2="249.68" y2="375.50" stroke="#1a1a1a" stroke-width="1.25" />
<line x1="255.02" y1="372.40" x2="255.02" y2="375.50" stroke="#1a1a1a" stroke-width="1.25" />
<line x1="290.54" y1="372.40" x2="290.54" y2="375.50" stroke="#1a1a1a" stroke-width="1.25" />
<line x1="308.51" y1="372.40" x2="308.51" y2="375.50" stroke="#1a1a1a" stroke-width="1.25" />
<line x1="321.27" y1="372.40" x2="321.27" y2="375.50" stroke="#1a1a1a" stroke-width="1.25" />
<line x1="331.16" y1="372.40" x2="331.16" y2="375.50" stroke="#1a1a1a" stroke-width="1.25" />
<line x1="339.25" y1="372.40" x2="339.25" y2="375.50" stroke="#1a1a1a" stroke-width="1.25" />
<line x1="346.08" y1="372.40" x2="346.08" y2="375.50" stroke="#1a1a1a" stroke-width="1.25" />
<line x1="352.01" y1="372.40" x2="352.01" y2="375.50" stroke="#1a1a1a" stroke-width="1.25" />
<line x1="357.23" y1="372.40" x2="357.23" y2="375.50" stroke="#1a1a1a" stroke-width="1.25" />
<line x1="392.03" y1="372.40" x2="392.03" y2="375.50" stroke="#1a1a1a" stroke-width="1.25" />
<line x1="409.66" y1="372.40" x2="409.66" y2="375.50" stroke="#1a1a1a" stroke-width="1.25" />
<line x1="422.17" y1="372.40" x2="422.17" y2="375.50" stroke="#1a1a1a" stroke-width="1.25" />
<line x1="431.87" y1="372.40" x2="431.87" y2="375.50" stroke="#1a1a1a" stroke-width="1.25" />
<line x1="439.79" y1="372.40" x2="439.79" y2="375.50" stroke="#1a1a1a" stroke-width="1.25" />
<line x1="446.49" y1="372.40" x2="446.49" y2="375.50" stroke="#1a1a1a" stroke-width="1.25" />
<line x1="452.30" y1="372.40" x2="452.30" y2="375.50" stroke="#1a1a1a" stroke-width="1.25" />
<line x1="457.42" y1="372.40" x2="457.42" y2="375.50" stroke="#1a1a1a" stroke-width="1.25" />
<line x1="492.40" y1="372.40" x2="492.40" y2="375.50" stroke="#1a1a1a" stroke-width="1.25" />
<text transform="translate(49.50,385.20) scale(1.3,1)" font-size="5.8" text-anchor="middle" fill="#1a1a1a" stroke="#1a1a1a" stroke-width="0.2" font-family="Liberation Sans, sans-serif">-23</text>
<text transform="translate(73.70,382.40) scale(1.3,1)" font-size="5.8" text-anchor="middle" fill="#1a1a1a" stroke="#1a1a1a" stroke-width="0.2" font-family="Liberation Sans, sans-serif">0</text>
<text transform="translate(85.50,382.20) scale(1.2,1)" font-size="5.8" text-anchor="middle" fill="#1a1a1a" stroke="#1a1a1a" stroke-width="0.2" font-family="Liberation Sans, sans-serif">10<tspan dy="-2.5" dx="1.0" font-size="5.6" stroke="none">1</tspan></text>
<text transform="translate(154.50,382.20) scale(1.2,1)" font-size="5.8" text-anchor="middle" fill="#1a1a1a" stroke="#1a1a1a" stroke-width="0.2" font-family="Liberation Sans, sans-serif">10<tspan dy="-2.5" dx="1.0" font-size="5.6" stroke="none">2</tspan></text>
<text transform="translate(258.80,382.20) scale(1.2,1)" font-size="5.8" text-anchor="middle" fill="#1a1a1a" stroke="#1a1a1a" stroke-width="0.2" font-family="Liberation Sans, sans-serif">10<tspan dy="-2.5" dx="1.0" font-size="5.6" stroke="none">3</tspan></text>
<text transform="translate(361.20,382.20) scale(1.2,1)" font-size="5.8" text-anchor="middle" fill="#1a1a1a" stroke="#1a1a1a" stroke-width="0.2" font-family="Liberation Sans, sans-serif">10<tspan dy="-2.5" dx="1.0" font-size="5.6" stroke="none">4</tspan></text>
<text transform="translate(461.50,382.20) scale(1.2,1)" font-size="5.8" text-anchor="middle" fill="#1a1a1a" stroke="#1a1a1a" stroke-width="0.2" font-family="Liberation Sans, sans-serif">10<tspan dy="-2.5" dx="1.0" font-size="5.6" stroke="none">5</tspan></text>
<text x="177.60" y="239.30" font-size="8.1" font-weight="normal" text-anchor="start" fill="#222" font-family="Liberation Sans, sans-serif" textLength="162.0" lengthAdjust="spacingAndGlyphs">Specimen_001-Tube_005</text>
<text x="257.10" y="389.30" font-size="6.2" font-weight="normal" text-anchor="start" fill="#222" font-family="Liberation Sans, sans-serif" textLength="39.9" lengthAdjust="spacingAndGlyphs" stroke="#222" stroke-width="0.2">APC-A</text>
<text transform="translate(26.80,306.00) rotate(-90) scale(0.43,1)" font-size="13" font-weight="normal" text-anchor="middle" fill="#222" font-family="Liberation Sans, sans-serif" stroke="#222" stroke-width="0.3">Count</text>
<text x="358.00" y="275.00" font-size="11" font-weight="bold" text-anchor="start" fill="#000" font-family="Liberation Sans, sans-serif" >4n</text>
<line x1="370.50" y1="271.00" x2="380.00" y2="271.00" stroke="#000" stroke-width="1.5" />
<path d="M378.5,267.2 L385.6,271 L378.5,274.8 Z" fill="#000"/>
<text x="403.00" y="282.80" font-size="11" font-weight="bold" text-anchor="middle" fill="#000" font-family="Liberation Sans, sans-serif" >8</text>
<text x="417.50" y="282.80" font-size="11" font-weight="bold" text-anchor="middle" fill="#000" font-family="Liberation Sans, sans-serif" >16</text>
<text x="432.00" y="282.80" font-size="11" font-weight="bold" text-anchor="middle" fill="#000" font-family="Liberation Sans, sans-serif" >32</text>
<text x="446.20" y="282.80" font-size="11" font-weight="bold" text-anchor="middle" fill="#000" font-family="Liberation Sans, sans-serif" >64</text>
<text x="463.40" y="282.80" font-size="11" font-weight="bold" text-anchor="middle" fill="#000" font-family="Liberation Sans, sans-serif" >128</text>
<line x1="405.00" y1="284.50" x2="405.00" y2="296.50" stroke="#000" stroke-width="1.6" />
<path d="M400.6,294.3 L409.4,294.3 L405.0,302.5 Z" fill="#000"/>
<line x1="419.60" y1="284.50" x2="419.60" y2="296.50" stroke="#000" stroke-width="1.6" />
<path d="M415.2,294.3 L424.0,294.3 L419.6,302.5 Z" fill="#000"/>
<line x1="432.20" y1="284.50" x2="432.20" y2="296.50" stroke="#000" stroke-width="1.6" />
<path d="M427.8,294.3 L436.6,294.3 L432.2,302.5 Z" fill="#000"/>
<line x1="445.90" y1="284.50" x2="445.90" y2="296.50" stroke="#000" stroke-width="1.6" />
<path d="M441.5,294.3 L450.3,294.3 L445.9,302.5 Z" fill="#000"/>
<line x1="462.80" y1="284.50" x2="462.80" y2="343.00" stroke="#000" stroke-width="1.6" />
<path d="M458.4,340.8 L467.2,340.8 L462.8,349.0 Z" fill="#000"/>
<line x1="100.60" y1="517.30" x2="100.60" y2="526.00" stroke="#000" stroke-width="2.6" />
<line x1="92.70" y1="517.30" x2="108.40" y2="517.30" stroke="#000" stroke-width="2.6" stroke-linecap="round"/>
<rect x="84.20" y="526.30" width="32.80" height="106.00" fill="#fff" stroke="#000" stroke-width="2.6" />
<line x1="150.00" y1="483.80" x2="150.00" y2="488.70" stroke="#000" stroke-width="2.6" />
<line x1="142.00" y1="483.80" x2="157.20" y2="483.80" stroke="#000" stroke-width="2.6" stroke-linecap="round"/>
<rect x="133.30" y="489.00" width="32.30" height="143.30" fill="#000" stroke="#000" stroke-width="2.6" />
<line x1="198.60" y1="476.60" x2="198.60" y2="489.50" stroke="#000" stroke-width="2.6" />
<line x1="191.20" y1="476.60" x2="206.40" y2="476.60" stroke="#000" stroke-width="2.6" stroke-linecap="round"/>
<rect x="182.50" y="489.80" width="32.40" height="142.50" fill="#828282" stroke="#000" stroke-width="2.6" />
<line x1="247.80" y1="482.80" x2="247.80" y2="499.50" stroke="#000" stroke-width="2.6" />
<line x1="240.00" y1="482.80" x2="255.40" y2="482.80" stroke="#000" stroke-width="2.6" stroke-linecap="round"/>
<rect x="231.40" y="499.80" width="32.60" height="132.50" fill="#828282" stroke="#000" stroke-width="2.6" />
<line x1="76.30" y1="434.50" x2="76.30" y2="633.60" stroke="#000" stroke-width="2.6" />
<line x1="69.30" y1="632.30" x2="271.60" y2="632.30" stroke="#000" stroke-width="2.6" />
<text transform="translate(68.00,637.65) scale(0.94,1)" font-size="15.6" font-weight="bold" text-anchor="end" fill="#000" font-family="Liberation Sans, sans-serif" >0</text>
<line x1="69.30" y1="604.02" x2="76.30" y2="604.02" stroke="#000" stroke-width="2.6" />
<text transform="translate(68.00,609.62) scale(0.94,1)" font-size="15.6" font-weight="bold" text-anchor="end" fill="#000" font-family="Liberation Sans, sans-serif" >2</text>
<line x1="69.30" y1="575.99" x2="76.30" y2="575.99" stroke="#000" stroke-width="2.6" />
<text transform="translate(68.00,581.59) scale(0.94,1)" font-size="15.6" font-weight="bold" text-anchor="end" fill="#000" font-family="Liberation Sans, sans-serif" >4</text>
<line x1="69.30" y1="547.96" x2="76.30" y2="547.96" stroke="#000" stroke-width="2.6" />
<text transform="translate(68.00,553.56) scale(0.94,1)" font-size="15.6" font-weight="bold" text-anchor="end" fill="#000" font-family="Liberation Sans, sans-serif" >6</text>
<line x1="69.30" y1="519.93" x2="76.30" y2="519.93" stroke="#000" stroke-width="2.6" />
<text transform="translate(68.00,525.53) scale(0.94,1)" font-size="15.6" font-weight="bold" text-anchor="end" fill="#000" font-family="Liberation Sans, sans-serif" >8</text>
<line x1="69.30" y1="491.90" x2="76.30" y2="491.90" stroke="#000" stroke-width="2.6" />
<text transform="translate(68.00,497.50) scale(0.94,1)" font-size="15.6" font-weight="bold" text-anchor="end" fill="#000" font-family="Liberation Sans, sans-serif" >10</text>
<line x1="69.30" y1="463.87" x2="76.30" y2="463.87" stroke="#000" stroke-width="2.6" />
<text transform="translate(68.00,469.47) scale(0.94,1)" font-size="15.6" font-weight="bold" text-anchor="end" fill="#000" font-family="Liberation Sans, sans-serif" >12</text>
<line x1="69.30" y1="435.84" x2="76.30" y2="435.84" stroke="#000" stroke-width="2.6" />
<text transform="translate(68.00,441.44) scale(0.94,1)" font-size="15.6" font-weight="bold" text-anchor="end" fill="#000" font-family="Liberation Sans, sans-serif" >14</text>
<line x1="100.50" y1="632.30" x2="100.50" y2="638.50" stroke="#000" stroke-width="2.6" />
<line x1="149.70" y1="632.30" x2="149.70" y2="638.50" stroke="#000" stroke-width="2.6" />
<line x1="198.40" y1="632.30" x2="198.40" y2="638.50" stroke="#000" stroke-width="2.6" />
<line x1="247.80" y1="632.30" x2="247.80" y2="638.50" stroke="#000" stroke-width="2.6" />
<text x="100.30" y="650.00" font-size="12.8" font-weight="normal" text-anchor="middle" fill="#000" font-family="Liberation Sans, sans-serif" stroke="#000" stroke-width="0.6">PBS</text>
<text x="150.60" y="650.00" font-size="12.8" font-weight="normal" text-anchor="middle" fill="#000" font-family="Liberation Sans, sans-serif" stroke="#000" stroke-width="0.6">VEGF-A</text>
<text x="198.60" y="650.00" font-size="12.8" font-weight="normal" text-anchor="middle" fill="#000" font-family="Liberation Sans, sans-serif" stroke="#000" stroke-width="0.6">PlGF</text>
<text x="247.80" y="650.00" font-size="12.8" font-weight="normal" text-anchor="middle" fill="#000" font-family="Liberation Sans, sans-serif" stroke="#000" stroke-width="0.6">VEGF-E</text>
<line x1="88.20" y1="662.60" x2="264.50" y2="662.60" stroke="#000" stroke-width="2.6" />
<text x="173.80" y="681.00" font-size="15.7" font-weight="bold" text-anchor="middle" fill="#000" font-family="Liberation Sans, sans-serif" >Bone marrow</text>
<text transform="translate(37.30,533.50) rotate(-90) scale(1.03,1)" font-size="15.6" font-weight="bold" text-anchor="middle" fill="#000" font-family="Liberation Sans, sans-serif" >% MK<tspan font-weight="normal" font-size="19">≥</tspan> 16n</text>
<path d="M105.6,456.8 V447.5 H196.3 V456.8" fill="none" stroke="#000" stroke-width="2.6"/>
<path d="M105.6,477.2 V468.2 H150.2 V477.2" fill="none" stroke="#000" stroke-width="2.6"/>
<text x="152.30" y="456.10" font-size="27" font-weight="normal" text-anchor="middle" fill="#000" font-family="Liberation Sans, sans-serif" stroke="#000" stroke-width="0.4">*</text>
<text x="128.80" y="475.00" font-size="27" font-weight="normal" text-anchor="middle" fill="#000" font-family="Liberation Sans, sans-serif" stroke="#000" stroke-width="0.4">*</text>
<line x1="366.50" y1="515.40" x2="366.50" y2="525.20" stroke="#000" stroke-width="2.6" />
<line x1="358.80" y1="515.40" x2="373.80" y2="515.40" stroke="#000" stroke-width="2.6" stroke-linecap="round"/>
<rect x="350.50" y="525.50" width="31.50" height="107.60" fill="#fff" stroke="#000" stroke-width="2.6" />
<line x1="415.00" y1="498.80" x2="415.00" y2="513.70" stroke="#000" stroke-width="2.6" />
<line x1="407.40" y1="498.80" x2="422.40" y2="498.80" stroke="#000" stroke-width="2.6" stroke-linecap="round"/>
<rect x="399.00" y="514.00" width="31.00" height="119.10" fill="#828282" stroke="#000" stroke-width="2.6" />
<line x1="342.30" y1="437.30" x2="342.30" y2="634.40" stroke="#000" stroke-width="2.6" />
<line x1="335.30" y1="633.10" x2="439.90" y2="633.10" stroke="#000" stroke-width="2.6" />
<text transform="translate(334.60,638.40) scale(0.94,1)" font-size="15.6" font-weight="bold" text-anchor="end" fill="#000" font-family="Liberation Sans, sans-serif" >0</text>
<line x1="335.30" y1="584.40" x2="342.30" y2="584.40" stroke="#000" stroke-width="2.6" />
<text transform="translate(334.60,590.00) scale(0.94,1)" font-size="15.6" font-weight="bold" text-anchor="end" fill="#000" font-family="Liberation Sans, sans-serif" >10</text>
<line x1="335.30" y1="536.00" x2="342.30" y2="536.00" stroke="#000" stroke-width="2.6" />
<text transform="translate(334.60,541.60) scale(0.94,1)" font-size="15.6" font-weight="bold" text-anchor="end" fill="#000" font-family="Liberation Sans, sans-serif" >20</text>
<line x1="335.30" y1="487.60" x2="342.30" y2="487.60" stroke="#000" stroke-width="2.6" />
<text transform="translate(334.60,493.20) scale(0.94,1)" font-size="15.6" font-weight="bold" text-anchor="end" fill="#000" font-family="Liberation Sans, sans-serif" >30</text>
<line x1="335.30" y1="439.20" x2="342.30" y2="439.20" stroke="#000" stroke-width="2.6" />
<text transform="translate(334.60,444.80) scale(0.94,1)" font-size="15.6" font-weight="bold" text-anchor="end" fill="#000" font-family="Liberation Sans, sans-serif" >40</text>
<line x1="366.30" y1="633.10" x2="366.30" y2="639.40" stroke="#000" stroke-width="2.6" />
<line x1="414.80" y1="633.10" x2="414.80" y2="639.40" stroke="#000" stroke-width="2.6" />
<text x="366.30" y="649.70" font-size="11" font-weight="normal" text-anchor="middle" fill="#000" font-family="Liberation Sans, sans-serif" letter-spacing="1" stroke="#000" stroke-width="0.65">PBS</text>
<text x="415.40" y="649.70" font-size="11" font-weight="normal" text-anchor="middle" fill="#000" font-family="Liberation Sans, sans-serif" letter-spacing="1" stroke="#000" stroke-width="0.65">PlGF</text>
<line x1="354.20" y1="661.30" x2="430.40" y2="661.30" stroke="#000" stroke-width="2.6" />
<text x="387.30" y="679.40" font-size="15" font-weight="bold" text-anchor="middle" fill="#000" font-family="Liberation Sans, sans-serif" >Spleen</text>
<text transform="translate(304.30,535.10) rotate(-90) scale(1.025,1)" font-size="15.6" font-weight="bold" text-anchor="middle" fill="#000" font-family="Liberation Sans, sans-serif" >% MK<tspan font-weight="normal" font-size="19">≥</tspan> 16n</text>
<line x1="88.10" y1="806.20" x2="88.10" y2="818.70" stroke="#000" stroke-width="2.6" />
<line x1="84.70" y1="806.20" x2="91.50" y2="806.20" stroke="#000" stroke-width="2.6" stroke-linecap="round"/>
<rect x="80.50" y="819.00" width="15.20" height="114.70" fill="#fff" stroke="#000" stroke-width="2.6" />
<line x1="111.10" y1="797.90" x2="111.10" y2="807.20" stroke="#000" stroke-width="2.6" />
<line x1="107.70" y1="797.90" x2="114.50" y2="797.90" stroke="#000" stroke-width="2.6" stroke-linecap="round"/>
<rect x="103.50" y="807.50" width="15.20" height="126.20" fill="#000" stroke="#000" stroke-width="2.6" />
<line x1="134.10" y1="795.00" x2="134.10" y2="808.90" stroke="#000" stroke-width="2.6" />
<line x1="130.70" y1="795.00" x2="137.50" y2="795.00" stroke="#000" stroke-width="2.6" stroke-linecap="round"/>
<rect x="126.50" y="809.20" width="15.20" height="124.50" fill="url(#dotl)" stroke="#000" stroke-width="2.6" />
<line x1="157.10" y1="756.90" x2="157.10" y2="781.60" stroke="#000" stroke-width="2.6" />
<line x1="153.70" y1="756.90" x2="160.50" y2="756.90" stroke="#000" stroke-width="2.6" stroke-linecap="round"/>
<rect x="149.50" y="781.90" width="15.20" height="151.80" fill="url(#dotd)" stroke="#000" stroke-width="2.6" />
<line x1="195.00" y1="840.50" x2="195.00" y2="849.70" stroke="#000" stroke-width="2.6" />
<line x1="191.60" y1="840.50" x2="198.40" y2="840.50" stroke="#000" stroke-width="2.6" stroke-linecap="round"/>
<rect x="187.40" y="850.00" width="15.20" height="83.70" fill="#fff" stroke="#000" stroke-width="2.6" />
<line x1="218.00" y1="799.60" x2="218.00" y2="808.20" stroke="#000" stroke-width="2.6" />
<line x1="214.60" y1="799.60" x2="221.40" y2="799.60" stroke="#000" stroke-width="2.6" stroke-linecap="round"/>
<rect x="210.40" y="808.50" width="15.20" height="125.20" fill="#000" stroke="#000" stroke-width="2.6" />
<line x1="241.00" y1="814.00" x2="241.00" y2="818.80" stroke="#000" stroke-width="2.6" />
<line x1="237.60" y1="814.00" x2="244.40" y2="814.00" stroke="#000" stroke-width="2.6" stroke-linecap="round"/>
<rect x="233.40" y="819.10" width="15.20" height="114.60" fill="url(#dotl)" stroke="#000" stroke-width="2.6" />
<line x1="264.00" y1="819.70" x2="264.00" y2="834.70" stroke="#000" stroke-width="2.6" />
<line x1="260.60" y1="819.70" x2="267.40" y2="819.70" stroke="#000" stroke-width="2.6" stroke-linecap="round"/>
<rect x="256.40" y="835.00" width="15.20" height="98.70" fill="url(#dotd)" stroke="#000" stroke-width="2.6" />
<line x1="301.90" y1="865.00" x2="301.90" y2="871.00" stroke="#000" stroke-width="2.6" />
<line x1="298.50" y1="865.00" x2="305.30" y2="865.00" stroke="#000" stroke-width="2.6" stroke-linecap="round"/>
<rect x="294.30" y="871.30" width="15.20" height="62.40" fill="#fff" stroke="#000" stroke-width="2.6" />
<line x1="324.90" y1="831.50" x2="324.90" y2="839.60" stroke="#000" stroke-width="2.6" />
<line x1="321.50" y1="831.50" x2="328.30" y2="831.50" stroke="#000" stroke-width="2.6" stroke-linecap="round"/>
<rect x="317.30" y="839.90" width="15.20" height="93.80" fill="#000" stroke="#000" stroke-width="2.6" />
<line x1="347.90" y1="806.80" x2="347.90" y2="821.80" stroke="#000" stroke-width="2.6" />
<line x1="344.50" y1="806.80" x2="351.30" y2="806.80" stroke="#000" stroke-width="2.6" stroke-linecap="round"/>
<rect x="340.30" y="822.10" width="15.20" height="111.60" fill="url(#dotl)" stroke="#000" stroke-width="2.6" />
<line x1="370.90" y1="855.30" x2="370.90" y2="866.80" stroke="#000" stroke-width="2.6" />
<line x1="367.50" y1="855.30" x2="374.30" y2="855.30" stroke="#000" stroke-width="2.6" stroke-linecap="round"/>
<rect x="363.30" y="867.10" width="15.20" height="66.60" fill="url(#dotd)" stroke="#000" stroke-width="2.6" />
<line x1="408.80" y1="891.30" x2="408.80" y2="899.10" stroke="#000" stroke-width="2.6" />
<line x1="405.40" y1="891.30" x2="412.20" y2="891.30" stroke="#000" stroke-width="2.6" stroke-linecap="round"/>
<rect x="401.20" y="899.40" width="15.20" height="34.30" fill="#fff" stroke="#000" stroke-width="2.6" />
<line x1="431.80" y1="876.90" x2="431.80" y2="888.10" stroke="#000" stroke-width="2.6" />
<line x1="428.40" y1="876.90" x2="435.20" y2="876.90" stroke="#000" stroke-width="2.6" stroke-linecap="round"/>
<rect x="424.20" y="888.40" width="15.20" height="45.30" fill="#000" stroke="#000" stroke-width="2.6" />
<line x1="454.80" y1="880.10" x2="454.80" y2="887.00" stroke="#000" stroke-width="2.6" />
<line x1="451.40" y1="880.10" x2="458.20" y2="880.10" stroke="#000" stroke-width="2.6" stroke-linecap="round"/>
<rect x="447.20" y="887.30" width="15.20" height="46.40" fill="url(#dotl)" stroke="#000" stroke-width="2.6" />
<line x1="477.80" y1="885.00" x2="477.80" y2="898.00" stroke="#000" stroke-width="2.6" />
<line x1="474.40" y1="885.00" x2="481.20" y2="885.00" stroke="#000" stroke-width="2.6" stroke-linecap="round"/>
<rect x="470.20" y="898.30" width="15.20" height="35.40" fill="url(#dotd)" stroke="#000" stroke-width="2.6" />
<line x1="69.40" y1="740.20" x2="69.40" y2="935.10" stroke="#000" stroke-width="2.7" />
<line x1="62.20" y1="933.70" x2="497.20" y2="933.70" stroke="#000" stroke-width="2.9" />
<text transform="translate(61.70,939.50) scale(0.9,1)" font-size="15.6" font-weight="bold" text-anchor="end" fill="#000" font-family="Liberation Sans, sans-serif" >0</text>
<line x1="62.20" y1="895.15" x2="69.40" y2="895.15" stroke="#000" stroke-width="2.6" />
<text transform="translate(61.70,901.05) scale(0.9,1)" font-size="15.6" font-weight="bold" text-anchor="end" fill="#000" font-family="Liberation Sans, sans-serif" >1</text>
<line x1="62.20" y1="856.70" x2="69.40" y2="856.70" stroke="#000" stroke-width="2.6" />
<text transform="translate(61.70,862.60) scale(0.9,1)" font-size="15.6" font-weight="bold" text-anchor="end" fill="#000" font-family="Liberation Sans, sans-serif" >2</text>
<line x1="62.20" y1="818.25" x2="69.40" y2="818.25" stroke="#000" stroke-width="2.6" />
<text transform="translate(61.70,824.15) scale(0.9,1)" font-size="15.6" font-weight="bold" text-anchor="end" fill="#000" font-family="Liberation Sans, sans-serif" >3</text>
<line x1="62.20" y1="779.80" x2="69.40" y2="779.80" stroke="#000" stroke-width="2.6" />
<text transform="translate(61.70,785.70) scale(0.9,1)" font-size="15.6" font-weight="bold" text-anchor="end" fill="#000" font-family="Liberation Sans, sans-serif" >4</text>
<line x1="62.20" y1="741.35" x2="69.40" y2="741.35" stroke="#000" stroke-width="2.6" />
<text transform="translate(61.70,747.25) scale(0.9,1)" font-size="15.6" font-weight="bold" text-anchor="end" fill="#000" font-family="Liberation Sans, sans-serif" >5</text>
<text x="123.00" y="953.30" font-size="13" font-weight="bold" text-anchor="middle" fill="#000" font-family="Liberation Sans, sans-serif" >16n</text>
<text x="229.20" y="953.30" font-size="13" font-weight="bold" text-anchor="middle" fill="#000" font-family="Liberation Sans, sans-serif" >32n</text>
<text x="337.00" y="953.30" font-size="13" font-weight="bold" text-anchor="middle" fill="#000" font-family="Liberation Sans, sans-serif" >64n</text>
<text x="424.30" y="953.30" font-size="13" font-weight="bold" text-anchor="start" fill="#000" font-family="Liberation Sans, sans-serif" ><tspan font-weight="normal" font-size="16">≥</tspan><tspan dx="1.6">128n</tspan></text>
<text x="288.40" y="972.00" font-size="15" font-weight="bold" text-anchor="middle" fill="#000" font-family="Liberation Sans, sans-serif" >Mk ploidy</text>
<text transform="translate(43.70,837.40) rotate(-90) scale(1.035,1)" font-size="15.6" font-weight="bold" text-anchor="middle" fill="#000" font-family="Liberation Sans, sans-serif" >% Total Mk</text>
<rect x="280.30" y="977.40" width="2.00" height="1.60" fill="#222" stroke="none" stroke-width="0" />
<rect x="315.30" y="977.40" width="2.00" height="1.60" fill="#222" stroke="none" stroke-width="0" />
<rect x="402.05" y="750.45" width="24.30" height="6.20" fill="#fff" stroke="#000" stroke-width="2.5" />
<text x="433.30" y="759.40" font-size="15.2" font-weight="bold" text-anchor="start" fill="#000" font-family="Liberation Sans, sans-serif" >PBS</text>
<rect x="402.05" y="773.15" width="24.30" height="6.20" fill="#000" stroke="#000" stroke-width="2.5" />
<text x="433.30" y="781.75" font-size="15.2" font-weight="bold" text-anchor="start" fill="#000" font-family="Liberation Sans, sans-serif" >VEGF-A</text>
<rect x="402.05" y="794.75" width="24.30" height="6.20" fill="url(#dotl)" stroke="#000" stroke-width="2.5" />
<text x="433.30" y="804.10" font-size="15.2" font-weight="bold" text-anchor="start" fill="#000" font-family="Liberation Sans, sans-serif" >PlGF</text>
<rect x="402.05" y="817.05" width="24.30" height="6.20" fill="url(#dotd)" stroke="#000" stroke-width="2.5" />
<text x="433.30" y="826.45" font-size="15.2" font-weight="bold" text-anchor="start" fill="#000" font-family="Liberation Sans, sans-serif" >VEGF-E</text>
</g>
</svg>
</body></html>
